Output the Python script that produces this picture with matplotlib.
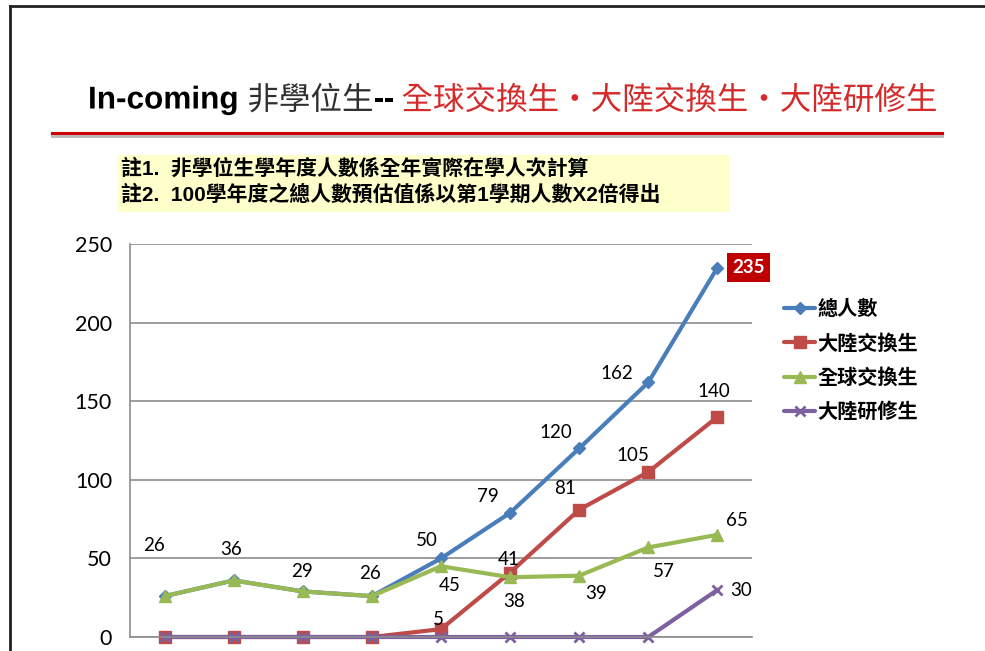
import matplotlib
matplotlib.use("Agg")
import matplotlib.pyplot as plt
import matplotlib.patheffects as pe
from matplotlib.lines import Line2D
from matplotlib.patches import Rectangle

plt.rcParams['font.family'] = ['Noto Sans CJK TC', 'DejaVu Sans']

# data (academic year points, x labels cropped out of the picture)
years = ['92', '93', '94', '95', '96', '97', '98', '99', '100']
total = [26, 36, 29, 26, 50, 79, 120, 162, 235]
mainland_ex = [0, 0, 0, 0, 5, 41, 81, 105, 140]
global_ex = [26, 36, 29, 26, 45, 38, 39, 57, 65]
mainland_study = [0, 0, 0, 0, 0, 0, 0, 0, 30]
series_names = ['總人數', '大陸交換生', '全球交換生', '大陸研修生']

W, H = 985, 651
fig = plt.figure(figsize=(W / 100, H / 100), dpi=100)

def fx(px):
    return px / W

def fy(py):
    return 1 - py / H

ax = fig.add_axes([fx(130), fy(637), fx(752) - fx(130), (637 - 244) / H])
ax.set_xlim(-0.5, len(years) - 0.5)
ax.set_ylim(0, 250)
ax.set_yticks([0, 50, 100, 150, 200, 250])
ax.set_xticks(range(len(years)))
ax.set_xticklabels([])
ax.tick_params(axis='x', length=0)
ax.tick_params(axis='y', length=0, pad=13, labelsize=15.5)
for lab in ax.get_yticklabels():
    lab.set_family(['Lato', 'DejaVu Sans'])
ax.grid(axis='y', color='#8c8c8c', linewidth=1.2)
ax.set_axisbelow(True)
for s in ['top', 'right']:
    ax.spines[s].set_visible(False)
ax.spines['left'].set_color('#8c8c8c')
ax.spines['bottom'].set_color('#8c8c8c')
ax.spines['left'].set_linewidth(1.2)
ax.spines['bottom'].set_linewidth(1.2)

x = list(range(len(years)))
styles = [
    (total, '#4a7ebb', 'D', 6),
    (mainland_ex, '#be4b48', 's', 8),
    (global_ex, '#98b954', '^', 8),
    (mainland_study, '#7d60a0', 'x', 7),
]
for (vals, col, mk, ms), name in zip(styles, series_names):
    ax.plot(x, vals, color=col, linewidth=3, marker=mk, markersize=ms,
            markeredgewidth=2 if mk == 'x' else 1, markeredgecolor=col,
            label=name, clip_on=False, solid_capstyle='round')

lab_font = dict(fontsize=13.5, family=['Lato', 'DejaVu Sans'], ha='center', va='center')
total_off = [(-11, 51), (-3, 31), (-1, 20), (-2, 23), (-14, 18), (-22, 16), (-23, 16), (-32, 9)]
for i, off in enumerate(total_off):
    ax.annotate(str(total[i]), (x[i], total[i]), xytext=off,
                textcoords='offset pixels', **lab_font)
ax.annotate(str(total[8]), (x[8], total[8]), xytext=(31, 0),
            textcoords='offset pixels', color='white', fontweight='bold',
            bbox=dict(boxstyle='square,pad=0.3', fc='#c00000', ec='none'),
            **lab_font)
mx_off = {4: (-3, 10), 5: (-1, 13), 6: (-14, 21), 7: (-15, 16), 8: (-4, 25)}
for i, off in mx_off.items():
    ax.annotate(str(mainland_ex[i]), (x[i], mainland_ex[i]), xytext=off,
                textcoords='offset pixels', **lab_font)
gx_off = {4: (9, -19), 5: (4, -24), 6: (17, -18), 7: (15, -24), 8: (19, 14)}
for i, off in gx_off.items():
    ax.annotate(str(global_ex[i]), (x[i], global_ex[i]), xytext=off,
                textcoords='offset pixels', **lab_font)
ax.annotate(str(mainland_study[8]), (x[8], mainland_study[8]), xytext=(24, -1),
            textcoords='offset pixels', **lab_font)

leg = ax.legend(loc='upper left', bbox_to_anchor=(fx(784), fy(298)),
                bbox_transform=fig.transFigure, frameon=False,
                borderpad=0, borderaxespad=0, handlelength=1.55,
                handletextpad=0.12, labelspacing=0.66,
                prop=dict(family=['Noto Sans CJK TC', 'DejaVu Sans'], weight='bold', size=14.5))

# slide frame
fig.add_artist(Line2D([fx(10), 1], [fy(6), fy(6)], color='#222222', linewidth=2))
fig.add_artist(Line2D([fx(10), fx(10)], [fy(6), 0], color='#222222', linewidth=2))

# title underline with shadow
fig.add_artist(Line2D([fx(52), fx(942)], [fy(136), fy(136)], color='#b8b8b8', linewidth=2))
fig.add_artist(Line2D([fx(52), fx(942)], [fy(133), fy(133)], color='#cc0000', linewidth=2.2))

# title in pieces
fig.canvas.draw()
renderer = fig.canvas.get_renderer()
title_parts = [
    ('In-coming ', dict(color='black', fontweight='bold', family=['Liberation Sans', 'DejaVu Sans'])),
    ('非學位生', dict(color='#303030', fontweight='normal', family=['Noto Sans CJK TC', 'DejaVu Sans'])),
    ('--', dict(color='black', fontweight='bold', family=['Liberation Sans', 'DejaVu Sans'])),
    (' 全球交換生・大陸交換生・大陸研修生', dict(color='#d42a2a', fontweight='normal', family=['Noto Sans CJK TC', 'DejaVu Sans'])),
]
cur = fx(88)
for txt, kw in title_parts:
    t = fig.text(cur, fy(97), txt, fontsize=22.7, va='center_baseline', ha='left', **kw)
    t.set_path_effects([pe.SimpleLineShadow(offset=(1.2, -1.2), shadow_color='#b0b0b0', alpha=0.6), pe.Normal()])
    bb = t.get_window_extent(renderer)
    cur = bb.x1 / W

# notes box
fig.add_artist(Rectangle((fx(117), fy(212)), fx(730) - fx(117), (212 - 155) / H,
                         transform=fig.transFigure, fc='#ffffcc', ec='none'))
note_kw = dict(fontsize=15, fontweight='bold', color='black', va='center', ha='left',
               family=['Liberation Sans', 'Noto Sans CJK TC', 'DejaVu Sans'])
fig.text(fx(121), fy(168), '註1.  非學位生學年度人數係全年實際在學人次計算', **note_kw)
fig.text(fx(121), fy(195), '註2.  100學年度之總人數預估值係以第1學期人數X2倍得出', **note_kw)

fig.savefig('out.png', dpi=100)
